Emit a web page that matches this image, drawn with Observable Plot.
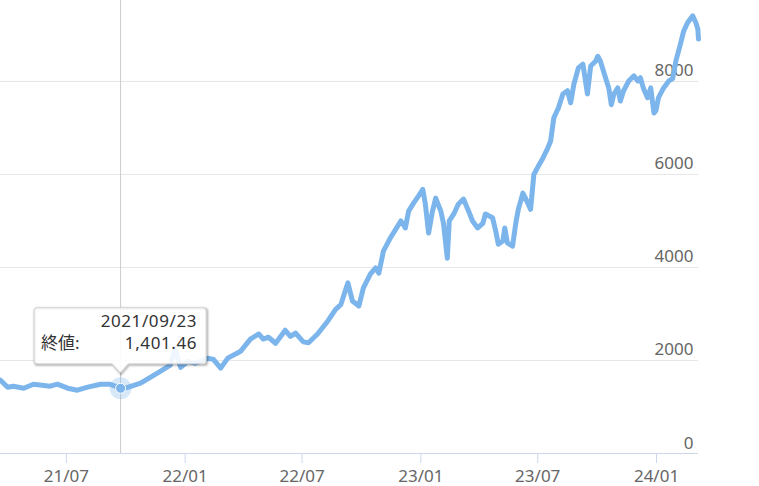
<!DOCTYPE html>
<html>
<head>
<meta charset="utf-8">
<script src="https://cdn.jsdelivr.net/npm/d3@7"></script>
<script src="https://cdn.jsdelivr.net/npm/@observablehq/plot@0.6"></script>
<style>
  html, body { margin: 0; padding: 0; background: #ffffff; }
  #chart { width: 759px; height: 486px; }
</style>
</head>
<body>
<div id="chart"></div>
<script>
// ---- data ----
const dates = [
  "2021-03-21","2021-04-01","2021-04-10","2021-04-26","2021-05-11","2021-06-06","2021-06-17",
  "2021-07-03","2021-07-18","2021-08-03","2021-08-23","2021-09-07","2021-09-23","2021-10-04",
  "2021-10-24","2021-11-19","2021-12-09","2021-12-16","2021-12-25","2022-01-05","2022-01-17",
  "2022-01-28","2022-02-05","2022-02-14","2022-02-25","2022-03-08","2022-03-28","2022-04-12",
  "2022-04-25","2022-05-02","2022-05-10","2022-05-21","2022-06-05","2022-06-13","2022-06-21",
  "2022-07-03","2022-07-11","2022-07-25","2022-08-10","2022-08-22","2022-08-30","2022-09-10",
  "2022-09-17","2022-09-27","2022-10-04","2022-10-15","2022-10-23","2022-10-28","2022-11-04",
  "2022-11-15","2022-11-23","2022-12-01","2022-12-08","2022-12-13","2022-12-21","2022-12-28",
  "2023-01-04","2023-01-08","2023-01-13","2023-01-19","2023-01-24","2023-02-01","2023-02-05",
  "2023-02-11","2023-02-14","2023-02-21","2023-02-28","2023-03-08","2023-03-16","2023-03-22",
  "2023-03-30","2023-04-07","2023-04-11","2023-04-22","2023-04-27","2023-05-01","2023-05-08",
  "2023-05-11","2023-05-15","2023-05-23","2023-05-28","2023-06-01","2023-06-08","2023-06-12",
  "2023-06-20","2023-06-25","2023-07-02","2023-07-09","2023-07-16","2023-07-21","2023-07-26",
  "2023-08-02","2023-08-09","2023-08-16","2023-08-21","2023-08-26","2023-09-02","2023-09-09",
  "2023-09-16","2023-09-21","2023-09-29","2023-10-02","2023-10-06","2023-10-14","2023-10-19",
  "2023-10-23","2023-10-27","2023-11-02","2023-11-06","2023-11-11","2023-11-19","2023-11-27",
  "2023-12-03","2023-12-07","2023-12-12","2023-12-18","2023-12-23","2023-12-28","2023-12-31",
  "2024-01-04","2024-01-12","2024-01-20","2024-01-26","2024-01-31","2024-02-07","2024-02-12",
  "2024-02-18","2024-02-26","2024-03-02","2024-03-05","2024-03-06"
];
const closes = [
  1576,1426,1447,1404,1490,1447,1490,
  1404,1361,1426,1490,1490,1401.46,1420,
  1512,1727,1900,2250,1850,1980,1940,
  2000,2050,2020,1835,2050,2200,2460,
  2570,2460,2500,2370,2650,2520,2590,
  2400,2380,2570,2850,3100,3200,3670,
  3280,3170,3560,3860,3990,3880,4350,
  4640,4820,5000,4850,5210,5390,5530,
  5680,5360,4740,5210,5490,5210,4950,
  4200,5000,5150,5360,5470,5210,5000,
  4850,4950,5150,5070,4780,4500,4570,
  4850,4530,4460,4950,5250,5600,5490,
  5250,6000,6180,6350,6550,6720,7220,
  7430,7730,7800,7540,7940,8290,8370,
  7730,8330,8440,8540,8440,8080,7860,
  7500,7730,7860,7580,7800,8010,8120,
  8010,8080,7840,7650,7860,7320,7370,
  7650,7860,8010,8060,8440,8800,9080,
  9260,9410,9260,9120,8910
];
const seriesName = "終値";
const yTicks = [0, 2000, 4000, 6000, 8000];
const xTickDates = ["2021-07-01","2022-01-01","2022-07-01","2023-01-01","2023-07-01","2024-01-01"];
const xDomain = ["2021-03-21", "2024-03-06"];
const yDomain = [0, 9740];
const tooltipDate = "2021-09-23";
const tooltipValue = 1401.46;

// ---- build ----
const table = dates.map((d, i) => ({date: new Date(d), close: closes[i]}));
const tipPoint = [{date: new Date(tooltipDate), close: tooltipValue}];
const lineColor = "#7cb5ec";
const font = "'Noto Sans', 'Noto Sans CJK JP', sans-serif";

function tooltipMark(index, scales) {
  const px = scales.x(new Date(tooltipDate));
  const py = scales.y(tooltipValue);
  const halfW = 86, top = py - 80, bottom = py - 24, tipY = py - 15, r = 3;
  const left = px - halfW, right = px + halfW;
  const path = `M${left + r},${top} L${right - r},${top} Q${right},${top} ${right},${top + r}
    L${right},${bottom - r} Q${right},${bottom} ${right - r},${bottom}
    L${px + 8},${bottom} L${px},${tipY} L${px - 8},${bottom}
    L${left + r},${bottom} Q${left},${bottom} ${left},${bottom - r}
    L${left},${top + r} Q${left},${top} ${left + r},${top} Z`;
  const g = d3.create("svg:g");
  [[5, 0.05], [3, 0.1], [1, 0.15]].forEach(([w, o]) => {
    g.append("path").attr("d", path).attr("fill", "none")
      .attr("stroke", "#000").attr("stroke-opacity", o).attr("stroke-width", w)
      .attr("transform", "translate(1,1)");
  });
  g.append("path").attr("d", path)
    .attr("fill", "rgba(255,255,255,0.88)")
    .attr("stroke", "#d4d4d4").attr("stroke-width", 1);
  const t = g.append("g").attr("font-family", font).attr("font-size", 17).attr("fill", "#333333");
  t.append("text").attr("x", px + 77).attr("y", py - 61).attr("text-anchor", "end")
    .attr("letter-spacing", "0.6px")
    .text(d3.utcFormat("%Y/%m/%d")(new Date(tooltipDate)));
  t.append("text").attr("x", px - 79).attr("y", py - 39).attr("text-anchor", "start")
    .text(seriesName + ":");
  t.append("text").attr("x", px + 77).attr("y", py - 39).attr("text-anchor", "end")
    .attr("letter-spacing", "0.6px")
    .text(d3.format(",.2f")(tooltipValue));
  return g.node();
}

const chart = Plot.plot({
  width: 759,
  height: 486,
  marginLeft: 0,
  marginRight: 61,
  marginTop: 0,
  marginBottom: 33,
  style: {fontFamily: font, background: "#ffffff", overflow: "visible"},
  x: {type: "utc", domain: xDomain.map(d => new Date(d))},
  y: {domain: yDomain},
  marks: [
    Plot.gridY(yTicks.filter(d => d > 0), {stroke: "#e6e6e6", strokeOpacity: 1, strokeWidth: 1}),
    Plot.axisY(yTicks, {
      anchor: "right", tickSize: 0, tickPadding: 0, textAnchor: "end",
      tickFormat: d3.format("d"),
      dx: -5, dy: -5, lineAnchor: "bottom", fontSize: 17, fill: "#666666", label: null
    }),
    Plot.ruleY([0], {stroke: "#ccd6eb", strokeWidth: 1}),
    Plot.axisX(xTickDates.map(d => new Date(d)), {
      tickFormat: d3.utcFormat("%y/%m"), tickSize: 10, tickPadding: 6,
      stroke: "#ccd6eb", strokeOpacity: 1, fill: "#666666", fontSize: 17, label: null
    }),
    Plot.ruleX(tipPoint, {x: "date", stroke: "#cccccc", strokeWidth: 1}),
    Plot.lineY(table, {x: "date", y: "close", stroke: lineColor, strokeWidth: 5,
      strokeLinejoin: "round", strokeLinecap: "round"}),
    Plot.dot(tipPoint, {x: "date", y: "close", r: 11, fill: lineColor, fillOpacity: 0.3, stroke: "none"}),
    Plot.dot(tipPoint, {x: "date", y: "close", r: 5, fill: lineColor, stroke: "#ffffff", strokeWidth: 1}),
    tooltipMark
  ]
});
document.getElementById("chart").appendChild(chart);
</script>
</body>
</html>
